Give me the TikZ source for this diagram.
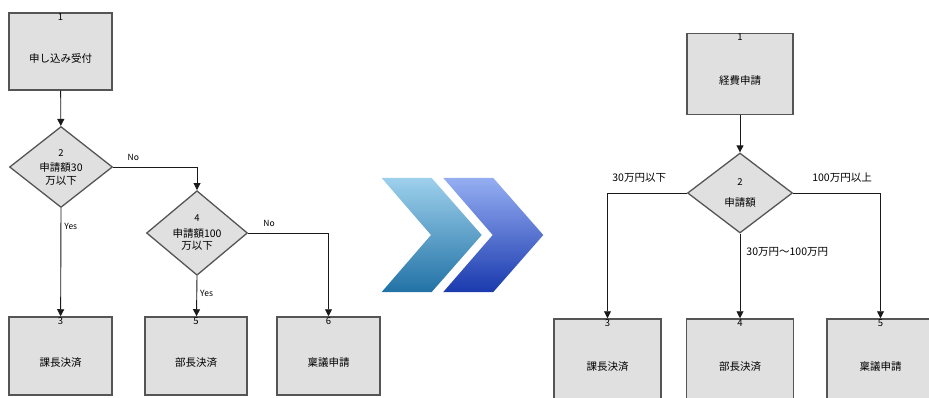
\documentclass[tikz,border=0pt]{standalone}
\usepackage{fontspec}
\setmainfont{Noto Sans CJK JP}
\usetikzlibrary{arrows.meta,shapes.geometric}
\definecolor{boxgray}{HTML}{E0E0E0}
\definecolor{edgegray}{HTML}{555555}
\definecolor{dark}{HTML}{1A1A1A}
\definecolor{chevAtop}{HTML}{9DD0EC}
\definecolor{chevAbot}{HTML}{2272A6}
\definecolor{chevBtop}{HTML}{95AEF2}
\definecolor{chevBbot}{HTML}{1A3AAE}
\newcommand{\jpsize}{\fontsize{10.5}{12.5}\selectfont}
\newcommand{\numsize}{\fontsize{9.5}{10}\selectfont}
\newcommand{\tagsize}{\fontsize{8.5}{10}\selectfont}
\tikzset{
  box/.style={draw=edgegray, line width=1.5pt, fill=boxgray, minimum width=103pt, minimum height=78pt, inner sep=0pt},
  decision/.style={diamond, draw=edgegray, line width=1.3pt, fill=boxgray, minimum width=103pt, minimum height=81pt, inner sep=0pt, align=center, font=\jpsize},
  num/.style={font=\numsize, inner sep=1pt},
  body/.style={font=\jpsize, yshift=-7pt},
  tag/.style={font=\tagsize, inner sep=1pt},
  arrow/.style={-{Triangle[length=7pt,width=7pt]}, line width=0.9pt, draw=dark},
  arrowtext/.style={font=\jpsize, inner sep=1pt}
}
\begin{document}
\begin{tikzpicture}[x=1pt, y=-1pt]
  \path[use as bounding box, clip] (0,0) rectangle (929,398);
  % before
  \node[box, minimum height=77pt, label={[num, anchor=north]north:1}, label={[body]center:申し込み受付}] (accept) at (60.5,51.5) {};
  \node[decision] (amt30) at (61,167) {{\numsize 2}\\[3pt]申請額30\\万以下};
  \node[decision, minimum width=101pt, minimum height=80pt] (amt100) at (197,233) {{\numsize 4}\\[3pt]申請額100\\万以下};
  \node[box, label={[num, anchor=north]north:3}, label={[body]center:課長決済}] (kacho) at (60.5,356) {};
  \node[box, minimum width=102pt, label={[num, anchor=north]north:5}, label={[body]center:部長決済}] (bucho) at (196,356) {};
  \node[box, label={[num, anchor=north]north:6}, label={[body]center:稟議申請}] (ringi) at (328.5,356) {};
  \draw[arrow] (accept) -- (amt30);
  \draw[arrow] (amt30.east) -| node[tag, pos=0.12, above=5pt] {No} (amt100.north);
  \draw[arrow] (amt30.south) -- node[tag, pos=0.17, right=2pt] {Yes} (kacho);
  \draw[arrow] (amt100.east) -| node[tag, pos=0.13, above=5pt] {No} (ringi);
  \draw[arrow] (amt100.south) -- node[tag, pos=0.43, right=2pt] {Yes} (bucho);
  % chevrons
  \shade[top color=chevAtop, bottom color=chevAbot] (381.7,178) -- (431.7,178) -- (481.7,235) -- (431.7,292) -- (381.7,292) -- (431,235) -- cycle;
  \shade[top color=chevBtop, bottom color=chevBbot] (443.3,178) -- (493.3,178) -- (543.3,235) -- (493.3,292) -- (443.3,292) -- (492.7,235) -- cycle;
  % after
  \node[box, minimum width=106pt, minimum height=81pt, label={[num, anchor=north]north:1}, label={[body]center:経費申請}] (expense) at (740,74) {};
  \node[decision, minimum width=105pt, minimum height=80pt] (amount) at (740,193) {{\numsize 2}\\[8pt]申請額};
  \node[box, minimum width=107pt, minimum height=81pt, label={[num, anchor=north]north:3}, label={[body]center:課長決済}] (kachoR) at (607.5,359.5) {};
  \node[box, minimum width=107pt, minimum height=81pt, label={[num, anchor=north]north:4}, label={[body]center:部長決済}] (buchoR) at (740,359.5) {};
  \node[box, minimum width=107pt, minimum height=81pt, label={[num, anchor=north]north:5}, label={[body]center:稟議申請}] (ringiR) at (880.5,359.5) {};
  \draw[arrow] (expense) -- (amount);
  \draw[arrow] (amount.west) -| node[arrowtext, pos=0.3, above=9pt] {30万円以下} (kachoR);
  \draw[arrow] (amount.south) -- node[arrowtext, pos=0.22, right=5pt] {30万円～100万円} (buchoR);
  \draw[arrow] (amount.east) -| node[arrowtext, pos=0.28, above=9pt] {100万円以上} (ringiR);
\end{tikzpicture}
\end{document}
